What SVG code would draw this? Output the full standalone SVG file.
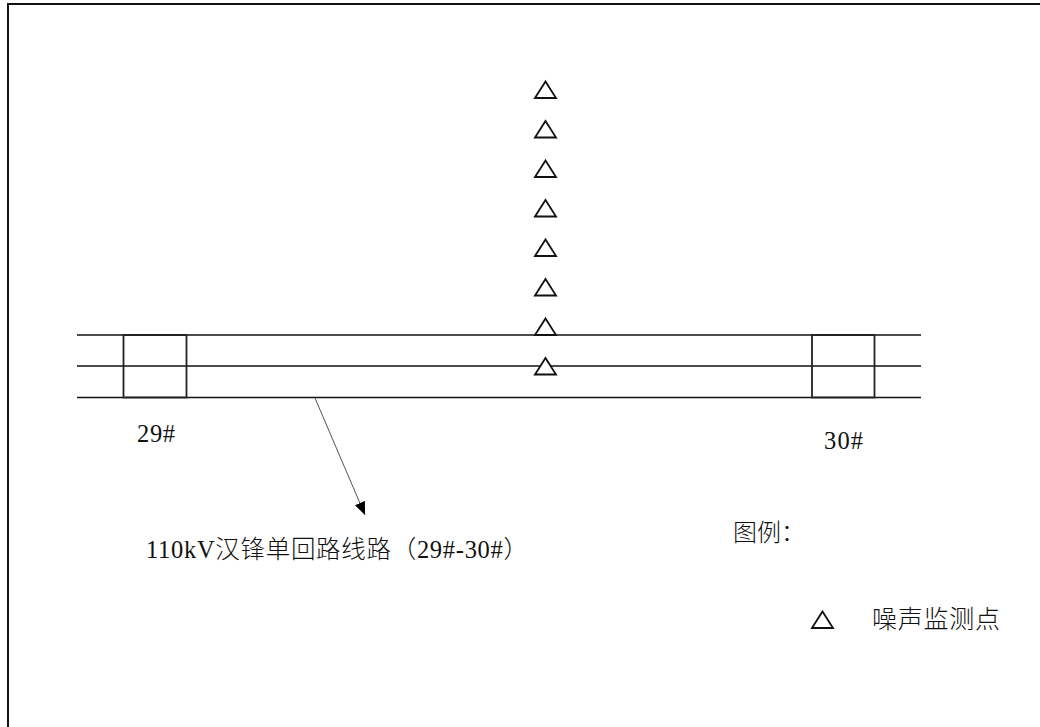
<svg xmlns="http://www.w3.org/2000/svg" width="1040" height="727" viewBox="0 0 1040 727">
<style>
.ln{stroke:#111;stroke-width:1.6;fill:none}
.box{stroke:#222;stroke-width:1.8;fill:none}
.tri{stroke:#111;stroke-width:1.8;fill:#fff;stroke-linejoin:miter}
.t{font-family:"Liberation Serif","Noto Sans CJK SC",serif;fill:#111}
.cjk{font-weight:300}
</style>
<defs>
<marker id="ah" viewBox="0 0 13 11" refX="13" refY="5.5" markerWidth="13" markerHeight="11" markerUnits="userSpaceOnUse" orient="auto">
<path d="M0,0 L13,5.5 L0,11 z" fill="#000"/>
</marker>
<polygon id="tr" class="tri" points="-10.5,0 0,-16.5 10.5,0"/>
</defs>
<rect x="0" y="0" width="1040" height="727" fill="#fff"/>
<rect x="8" y="4" width="1040" height="730" fill="none" stroke="#111" stroke-width="2"/>
<g id="connectors">
<line class="ln" x1="77" y1="335" x2="921" y2="335"/>
<line class="ln" x1="77" y1="366" x2="921" y2="366"/>
<line class="ln" x1="77" y1="397.5" x2="921" y2="397.5"/>
<line x1="315" y1="398" x2="365" y2="515" stroke="#555" stroke-width="1" marker-end="url(#ah)"/>
</g>
<g id="tower-29">
<rect class="box" x="123.5" y="335" width="63" height="62.5"/>
<text class="t" x="137" y="442" font-size="24.5" textLength="38" lengthAdjust="spacing">29#</text>
</g>
<g id="tower-30">
<rect class="box" x="812" y="335" width="62.5" height="62.5"/>
<text class="t" x="824" y="449" font-size="24.5" textLength="39" lengthAdjust="spacing">30#</text>
</g>
<g id="monitor-points">
<use href="#tr" x="545.5" y="98"/>
<use href="#tr" x="545.5" y="137.5"/>
<use href="#tr" x="545.5" y="177"/>
<use href="#tr" x="545.5" y="216.5"/>
<use href="#tr" x="545.5" y="256"/>
<use href="#tr" x="545.5" y="295.5"/>
<use href="#tr" x="545.5" y="335"/>
<use href="#tr" x="545.5" y="374.5"/>
</g>
<g id="line-label">
<text class="t cjk" x="146" y="558" font-size="24.5" textLength="382" lengthAdjust="spacing">110kV汉锋单回路线路（29#-30#）</text>
</g>
<g id="legend">
<text class="t cjk" x="733" y="541" font-size="24">图例：</text>
<use href="#tr" x="822.5" y="628"/>
<text class="t cjk" x="872" y="628" font-size="25" textLength="128" lengthAdjust="spacing">噪声监测点</text>
</g>
</svg>
